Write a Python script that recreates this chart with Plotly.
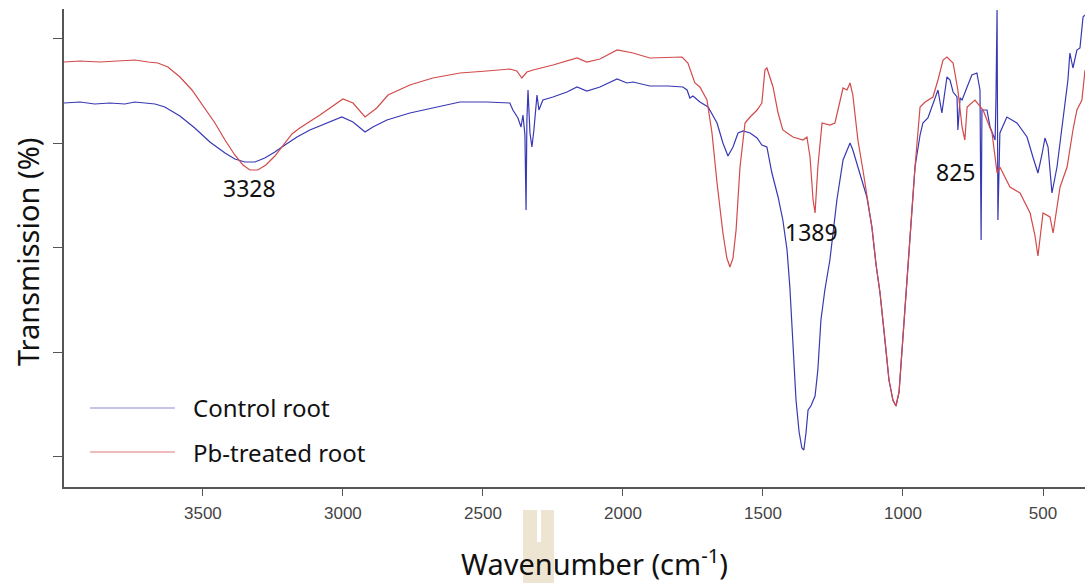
import plotly.graph_objects as go

# ---- Control root (blue) ----
control_wn = [3996, 3939, 3886, 3832, 3779, 3743, 3707, 3671, 3636, 3582, 3529, 3475, 3421, 3386,
              3350, 3314, 3279, 3243, 3207, 3164, 3118, 3064, 3004, 2964, 2921, 2893, 2843, 2761,
              2679, 2582, 2486, 2404, 2393, 2375, 2364, 2357, 2350, 2346, 2343, 2339, 2332, 2325,
              2318, 2307, 2300, 2286, 2250, 2200, 2164, 2129, 2082, 2021, 1986, 1964, 1904, 1839,
              1786, 1771, 1761, 1750, 1725, 1696, 1664, 1643, 1625, 1607, 1589, 1571, 1546, 1521,
              1504, 1486, 1468, 1446, 1429, 1414, 1404, 1393, 1382, 1371, 1361, 1354, 1346, 1339,
              1329, 1314, 1304, 1293, 1279, 1261, 1236, 1214, 1189, 1179, 1154, 1129, 1111,
              1096, 1082, 1064, 1050, 1036, 1025, 1014, 1004, 993, 982, 968, 957,
              939, 929, 911, 893, 875, 861, 843, 832, 821, 807, 804, 796, 789, 771, 754, 736,
              725, 721, 718, 700, 689, 671, 668, 664, 661, 654, 629, 593, 557, 536, 518, 504,
              493, 482, 468, 450, 429, 411, 404, 393, 379, 368, 357, 350]
control_t = [79.4, 79.6, 79.2, 79.4, 79.2, 79.6, 79.4, 79.2, 78.6, 76.8, 74.4, 71.6, 69.4, 68.2,
             67.6, 67.6, 68.4, 69.6, 71.0, 72.6, 74.0, 75.2, 76.6, 75.6, 73.6, 74.6, 76.0, 77.4,
             78.4, 79.6, 79.6, 79.4, 78.0, 76.4, 74.6, 77.0, 73.0, 58.0, 76.0, 82.0, 73.4, 70.6,
             74.0, 81.0, 78.0, 80.0, 80.6, 81.6, 82.6, 81.8, 82.6, 84.2, 83.4, 83.6, 82.8, 82.8,
             82.6, 82.0, 80.4, 80.8, 79.6, 78.6, 75.4, 71.4, 68.8, 70.6, 73.4, 73.8, 73.4, 72.4,
             71.0, 70.6, 65.4, 60.6, 56.0, 50.0, 42.6, 30.0, 20.0, 13.6, 10.4, 10.0, 13.6, 18.0,
             18.8, 20.8, 26.0, 36.0, 42.0, 48.0, 60.0, 68.0, 71.4, 70.0, 65.4, 60.6, 54.6,
             47.0, 41.4, 32.0, 24.0, 20.0, 18.8, 21.6, 29.6, 37.6, 46.0, 58.0, 66.6,
             73.0, 75.4, 76.4, 79.4, 82.0, 77.4, 84.6, 84.0, 81.6, 80.6, 74.0, 80.4, 80.0, 82.6, 85.0, 85.4,
             82.0, 52.0, 78.0, 78.0, 74.6, 72.0, 80.0, 98.0, 56.0, 73.4, 76.6, 75.4, 72.6, 68.6, 65.4, 69.0,
             72.4, 70.6, 61.4, 66.6, 75.4, 84.0, 89.4, 86.4, 90.0, 90.4, 96.6, 97.0]

# ---- Pb-treated root (red) ----
pb_wn = [3996, 3939, 3868, 3796, 3743, 3696, 3661, 3625, 3582, 3539, 3496, 3457, 3421, 3386,
         3357, 3332, 3304, 3275, 3243, 3214, 3182, 3154, 3082, 3000, 2964, 2921, 2879, 2839,
         2761, 2679, 2582, 2486, 2404, 2379, 2361, 2343, 2321, 2250, 2164, 2129, 2082, 2021,
         1964, 1904, 1789, 1768, 1743, 1725, 1700, 1682, 1664, 1643, 1629, 1618, 1607, 1596,
         1582, 1564, 1546, 1521, 1504, 1493, 1486, 1464, 1446, 1429, 1393, 1357, 1343, 1332,
         1321, 1314, 1304, 1289, 1261, 1243, 1225, 1214, 1200, 1189, 1179, 1161, 1143, 1125, 1111,
         1096, 1082, 1064, 1050, 1036, 1025, 1014, 1004, 993, 982, 968, 957,
         939, 921, 893, 875, 857, 843, 821, 804, 789, 779, 771, 743, 714, 682, 664, 654,
         618, 582, 546, 529, 518, 500, 475, 464, 439, 414, 393, 379, 361, 350]
pb_t = [87.6, 87.8, 87.6, 87.8, 88.0, 87.6, 87.4, 86.6, 84.6, 82.0, 78.6, 75.4, 72.0, 69.0,
        67.0, 66.0, 66.0, 67.0, 68.8, 71.0, 73.2, 74.4, 77.0, 80.2, 79.4, 76.6, 78.4, 81.0,
        83.0, 84.4, 85.4, 85.8, 86.2, 85.8, 84.4, 85.6, 86.0, 87.0, 88.4, 87.6, 88.2, 90.0,
        89.4, 88.4, 88.6, 87.4, 83.4, 82.6, 80.0, 73.4, 63.4, 53.4, 48.4, 46.6, 48.4, 54.0,
        66.6, 75.4, 76.6, 78.0, 79.4, 86.0, 86.4, 82.6, 77.4, 74.0, 72.6, 72.0, 72.6, 68.6,
        60.0, 57.4, 66.6, 75.4, 75.0, 75.4, 79.4, 82.4, 82.0, 83.4, 81.0, 72.0, 66.0, 60.0, 54.6,
        47.0, 41.4, 32.0, 24.0, 20.0, 18.8, 21.6, 29.6, 37.6, 46.0, 58.0, 66.6,
        78.6, 79.6, 80.6, 84.0, 88.0, 88.6, 87.4, 82.0, 74.6, 72.0, 78.6, 80.0, 78.0, 73.4, 65.4, 66.6,
        62.6, 61.4, 57.4, 53.0, 48.8, 57.4, 56.6, 53.4, 62.6, 66.6, 74.0, 78.0, 80.0, 86.0]

x_ticks = [3500, 3000, 2500, 2000, 1500, 1000, 500]
y_ticks = [92.4, 71.4, 50.6, 29.6, 8.8]
series_names = ["Control root", "Pb-treated root"]
peak_labels = ["3328", "1389", "825"]

BLUE = "#3838b4"
RED = "#d24a4a"

fig = go.Figure()
fig.add_trace(go.Scatter(x=control_wn, y=control_t, mode="lines", name=series_names[0],
                         line=dict(color=BLUE, width=1.2), showlegend=False))
fig.add_trace(go.Scatter(x=pb_wn, y=pb_t, mode="lines", name=series_names[1],
                         line=dict(color=RED, width=1.2), showlegend=False))

axis_col = "#555555"
fig.update_xaxes(range=[3996, 350], tickvals=x_ticks, ticktext=[str(v) for v in x_ticks],
                 ticks="outside", ticklen=7, tickwidth=1.2, tickcolor=axis_col,
                 showline=True, linecolor=axis_col, linewidth=1.5, showgrid=False, zeroline=False,
                 tickfont=dict(family="Liberation Sans, Arial", size=17, color="#444444"),
                 ticklabelstandoff=3)
fig.update_yaxes(range=[2.6, 98.2], tickvals=y_ticks, showticklabels=False,
                 ticks="outside", ticklen=9, tickwidth=1.2, tickcolor=axis_col,
                 showline=True, linecolor=axis_col, linewidth=1.5, showgrid=False, zeroline=False)

title_font = dict(family="Noto Sans", size=29, color="#111111")
label_font = dict(family="Noto Sans", size=23, color="#111111")
legend_font = dict(family="Noto Sans", size=24, color="#111111")

annotations = [
    dict(text="Wavenumber (cm<sup>-1</sup>)", x=0.52, y=-0.157, xref="paper", yref="paper",
         showarrow=False, font=title_font, xanchor="center", yanchor="middle"),
    dict(text="Transmission (%)", x=-0.0362, y=0.4916, xref="paper", yref="paper",
         showarrow=False, font=title_font, textangle=-90, xanchor="center", yanchor="middle"),
    dict(text=peak_labels[0], x=0.1812, y=0.6255, xref="paper", yref="paper",
         showarrow=False, font=label_font, xanchor="center", yanchor="middle"),
    dict(text=peak_labels[1], x=0.7326, y=0.5335, xref="paper", yref="paper",
         showarrow=False, font=label_font, xanchor="center", yanchor="middle"),
    dict(text=peak_labels[2], x=0.8727, y=0.659, xref="paper", yref="paper",
         showarrow=False, font=label_font, xanchor="center", yanchor="middle"),
    dict(text=series_names[0], x=0.1244, y=0.1653, xref="paper", yref="paper",
         showarrow=False, font=legend_font, xanchor="left", yanchor="middle"),
    dict(text=series_names[1], x=0.1244, y=0.0732, xref="paper", yref="paper",
         showarrow=False, font=legend_font, xanchor="left", yanchor="middle"),
]

shapes = [
    dict(type="line", xref="paper", yref="paper", x0=0.0255, x1=0.1087, y0=0.1653, y1=0.1653,
         line=dict(color="#8c8cd8", width=1.2)),
    dict(type="line", xref="paper", yref="paper", x0=0.0255, x1=0.1087, y0=0.0732, y1=0.0732,
         line=dict(color="#e07a7a", width=1.2)),
    # beige watermark behind the axis title
    dict(type="rect", xref="paper", yref="paper", x0=0.4496, x1=0.4799, y0=-0.2008, y1=-0.0481,
         fillcolor="#ede4d2", line=dict(width=0), layer="below"),
    dict(type="rect", xref="paper", yref="paper", x0=0.4633, x1=0.4672, y0=-0.1151, y1=-0.0481,
         fillcolor="#ffffff", line=dict(width=0), layer="below"),
]

fig.update_layout(width=1091, height=583, margin=dict(l=64, r=6, t=9, b=96),
                  paper_bgcolor="white", plot_bgcolor="white",
                  annotations=annotations, shapes=shapes, showlegend=False)

fig.write_html("out.html")
